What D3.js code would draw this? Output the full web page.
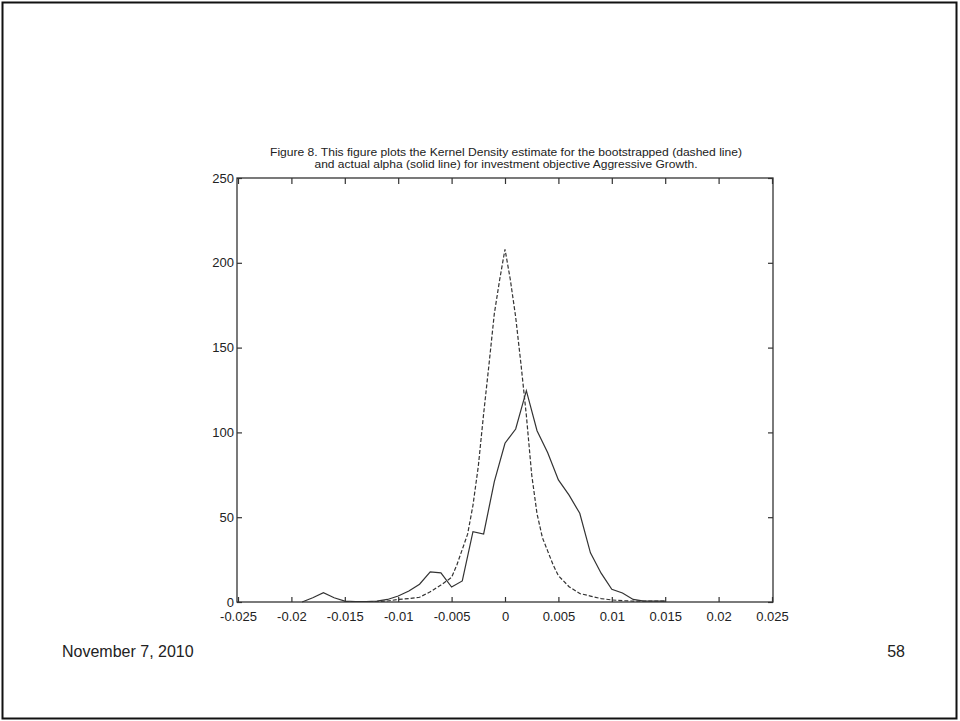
<!DOCTYPE html>
<html>
<head>
<meta charset="utf-8">
<script src="https://cdn.jsdelivr.net/npm/d3@7"></script>
<style>
  body { margin: 0; background: #fff; }
  svg { display: block; }
  text { font-family: "Liberation Sans", Arial, sans-serif; fill: #222; }
  .narrow { font-family: "Liberation Sans Narrow", "Arial Narrow", "Liberation Sans", sans-serif; }
</style>
</head>
<body>
<svg id="chart" width="960" height="721"></svg>
<script>
// x tick values and their labels
const xTicks = [-0.025, -0.02, -0.015, -0.01, -0.005, 0, 0.005, 0.01, 0.015, 0.02, 0.025];
const xTickLabels = ["-0.025", "-0.02", "-0.015", "-0.01", "-0.005", "0", "0.005", "0.01", "0.015", "0.02", "0.025"];
const yTicks = [0, 50, 100, 150, 200, 250];

// actual alpha (solid line)
const actualX = [-0.019, -0.018, -0.017, -0.016, -0.015, -0.014, -0.013, -0.012, -0.011, -0.010,
  -0.009, -0.008, -0.007, -0.006, -0.005, -0.004, -0.003, -0.002, -0.001, 0.000,
  0.001, 0.002, 0.003, 0.004, 0.005, 0.006, 0.007, 0.008, 0.009, 0.010,
  0.011, 0.012, 0.013, 0.014, 0.015];
const actualY = [0, 2.5, 5.5, 2.5, 0.5, 0.3, 0.3, 0.5, 1.5, 3.5,
  6.5, 10.5, 17.8, 17.2, 8.8, 12.4, 41.5, 40.1, 71, 93.6,
  102, 124.6, 101, 88, 72, 63, 52.3, 29, 17, 7.5,
  5.3, 1.5, 0.5, 0.5, 0.5];

// bootstrapped alpha (dashed line)
const bootX = [-0.015, -0.014, -0.013, -0.012, -0.011, -0.010, -0.009, -0.008, -0.007, -0.006,
  -0.005, -0.0045, -0.004, -0.0035, -0.003, -0.0025, -0.002, -0.0015, -0.001, -0.0005,
  0.000, 0.0005, 0.001, 0.0015, 0.002, 0.0025, 0.003, 0.0035, 0.004, 0.0045,
  0.005, 0.006, 0.007, 0.008, 0.009, 0.010, 0.011, 0.012, 0.013, 0.014, 0.015];
const bootY = [0.3, 0.3, 0.3, 0.3, 0.6, 1.5, 2, 2.8, 6, 10,
  14.5, 22, 31, 40, 57, 80, 111, 140, 170, 190,
  208, 190, 168, 140, 110, 75, 52, 38, 30, 22,
  15.5, 9, 5, 3.5, 2, 1.2, 0.8, 0.5, 0.5, 0.5, 0.5];

const titleLines = [
  "Figure 8. This figure plots the Kernel Density estimate for the bootstrapped (dashed line)",
  "and actual alpha (solid line) for investment objective Aggressive Growth."
];

const svg = d3.select("#chart");

// slide border
svg.append("rect")
  .attr("x", 2.5).attr("y", 2.5)
  .attr("width", 954).attr("height", 716)
  .attr("fill", "none")
  .attr("stroke", "#111")
  .attr("stroke-width", 2);

const plotLeft = 237, plotRight = 773, plotTop = 178, plotBottom = 602;

const x = d3.scaleLinear().domain([-0.025, 0.025]).range([plotLeft + 1, plotRight - 1]);
const y = d3.scaleLinear().domain([0, 250]).range([plotBottom, plotTop]);

const fmt = d => xTickLabels[xTicks.indexOf(d)];

// bottom axis, ticks inward
const gx = svg.append("g")
  .attr("transform", `translate(0,${plotBottom})`)
  .call(d3.axisBottom(x).tickValues(xTicks).tickFormat(fmt).tickSize(-5).tickPadding(10));
// top axis ticks
const gxt = svg.append("g")
  .attr("transform", `translate(0,${plotTop})`)
  .call(d3.axisTop(x).tickValues(xTicks).tickFormat("").tickSize(-6));
// left axis
const gy = svg.append("g")
  .attr("transform", `translate(${plotLeft},0)`)
  .call(d3.axisLeft(y).tickValues(yTicks).tickSize(-5).tickPadding(3));
// right axis ticks
const gyr = svg.append("g")
  .attr("transform", `translate(${plotRight},0)`)
  .call(d3.axisRight(y).tickValues(yTicks).tickFormat("").tickSize(-5));

[gx, gxt, gy, gyr].forEach(g => {
  g.select(".domain").remove();
  g.attr("font-family", null);
  g.selectAll(".tick line").attr("stroke", "#333").attr("stroke-width", 1.2);
  g.selectAll("text")
    .attr("class", "narrow")
    .style("font-size", "13px")
    .attr("fill", "#333");
});

// frame
svg.append("rect")
  .attr("x", plotLeft).attr("y", plotTop)
  .attr("width", plotRight - plotLeft).attr("height", plotBottom - plotTop)
  .attr("fill", "none")
  .attr("stroke", "#333")
  .attr("stroke-width", 1.3);

const line = d3.line().x(d => x(d[0])).y(d => y(d[1]));

svg.append("path")
  .datum(bootX.map((v, i) => [v, bootY[i]]))
  .attr("d", line)
  .attr("fill", "none")
  .attr("stroke", "#333")
  .attr("stroke-width", 1.2)
  .attr("stroke-dasharray", "4,2");

svg.append("path")
  .datum(actualX.map((v, i) => [v, actualY[i]]))
  .attr("d", line)
  .attr("fill", "none")
  .attr("stroke", "#333")
  .attr("stroke-width", 1.2);

// title
const titleWidths = [472, 383];
svg.selectAll("text.title")
  .data(titleLines)
  .enter()
  .append("text")
  .attr("class", "title narrow")
  .attr("x", 506)
  .attr("y", (d, i) => 156 + i * 12)
  .attr("text-anchor", "middle")
  .attr("textLength", (d, i) => titleWidths[i])
  .attr("lengthAdjust", "spacingAndGlyphs")
  .attr("fill", "#333")
  .style("font-size", "11px")
  .text(d => d);

// footer
svg.append("text")
  .attr("x", 62).attr("y", 657)
  .style("font-size", "16px")
  .attr("fill", "#000")
  .text("November 7, 2010");

svg.append("text")
  .attr("x", 905).attr("y", 657)
  .attr("text-anchor", "end")
  .style("font-size", "16px")
  .attr("fill", "#000")
  .text("58");
</script>
</body>
</html>
